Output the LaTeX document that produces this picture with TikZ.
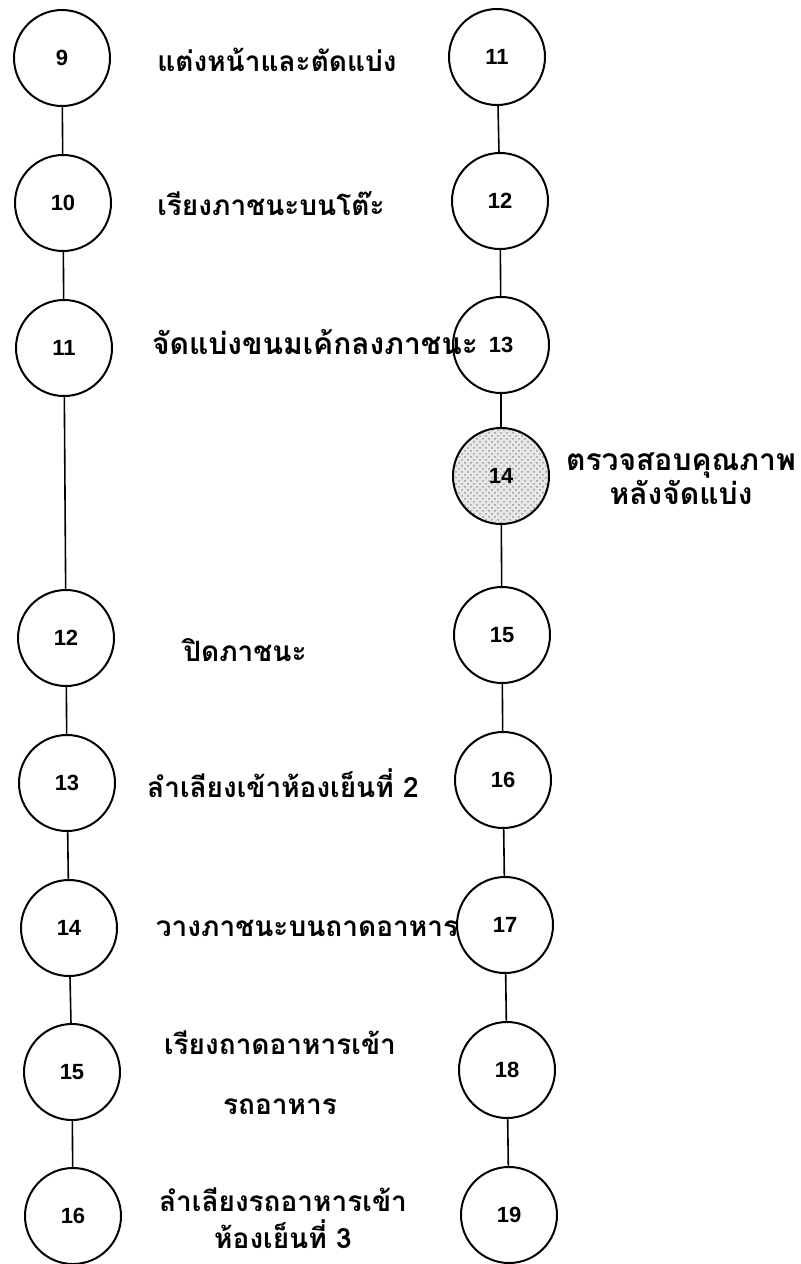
\documentclass[tikz,border=0pt]{standalone}
\usepackage{fontspec}
\setmainfont{Liberation Sans}
\newfontfamily\thaifont[Script=Thai]{Loma}
\usetikzlibrary{patterns}

\begin{document}
\begin{tikzpicture}[x=0.5pt, y=-0.5pt,
  stepcircle/.style={circle, draw, line width=1pt, minimum size=48pt,
    inner sep=0pt, font=\fontsize{11}{13}\selectfont\bfseries},
  checkcircle/.style={stepcircle, preaction={fill=gray!18},
    pattern=crosshatch dots, pattern color=gray!80},
  link/.style={line width=0.8pt},
  steptext/.style={font=\thaifont\bfseries\fontsize{14}{17}\selectfont,
    align=center, inner sep=0pt}]

  \useasboundingbox (0,0) rectangle (800,1264);

  % left column of operations
  \node[stepcircle] (l9)  at (62,58)    {9};
  \node[stepcircle] (l10) at (63,203)   {10};
  \node[stepcircle] (l11) at (64,348)   {11};
  \node[stepcircle] (l12) at (66,638)   {12};
  \node[stepcircle] (l13) at (67,783)   {13};
  \node[stepcircle] (l14) at (69,928)   {14};
  \node[stepcircle] (l15) at (72,1072)  {15};
  \node[stepcircle] (l16) at (73,1216)  {16};

  % right column of operations
  \node[stepcircle]   (r11) at (497,57)   {11};
  \node[stepcircle]   (r12) at (500,201)  {12};
  \node[stepcircle]   (r13) at (501,345)  {13};
  \node[checkcircle]  (r14) at (501,476)  {14};
  \node[stepcircle]   (r15) at (502,635)  {15};
  \node[stepcircle]   (r16) at (503,780)  {16};
  \node[stepcircle]   (r17) at (505,925)  {17};
  \node[stepcircle]   (r18) at (507,1070) {18};
  \node[stepcircle]   (r19) at (509,1215) {19};

  % connectors
  \foreach \a/\b in {l9/l10, l10/l11, l11/l12, l12/l13, l13/l14, l14/l15, l15/l16,
                     r11/r12, r12/r13, r13/r14, r14/r15, r15/r16, r16/r17, r17/r18, r18/r19}
    \draw[link] (\a) -- (\b);

  % descriptions
  \node[steptext] (t9)  at (277,60)  {แต่งหน้าและตัดแบ่ง};
  \node[steptext] (t10) at (271,204) {เรียงภาชนะบนโต๊ะ};
  \node[steptext, font=\thaifont\bfseries\fontsize{15}{18}\selectfont]
    (t11) at (315,342) {จัดแบ่งขนมเค้กลงภาชนะ};
  \node[steptext] (t12) at (245,650) {ปิดภาชนะ};
  \node[steptext] (t13) at (283,783) {ลำเลียงเข้าห้องเย็นที่ 2};
  \node[steptext] (t14) at (307,928) {วางภาชนะบนถาดอาหาร};
  \node[steptext, font=\thaifont\bfseries\fontsize{14}{30}\selectfont]
    (t15) at (280,1073) {เรียงถาดอาหารเข้า\\รถอาหาร};
  \node[steptext, font=\thaifont\bfseries\fontsize{14}{18.5}\selectfont]
    (t16) at (283,1218) {ลำเลียงรถอาหารเข้า\\ห้องเย็นที่ 3};
  \node[steptext, font=\thaifont\bfseries\fontsize{15}{16}\selectfont]
    (tq) at (681,479) {ตรวจสอบคุณภาพ\\หลังจัดแบ่ง};
\end{tikzpicture}
\end{document}
